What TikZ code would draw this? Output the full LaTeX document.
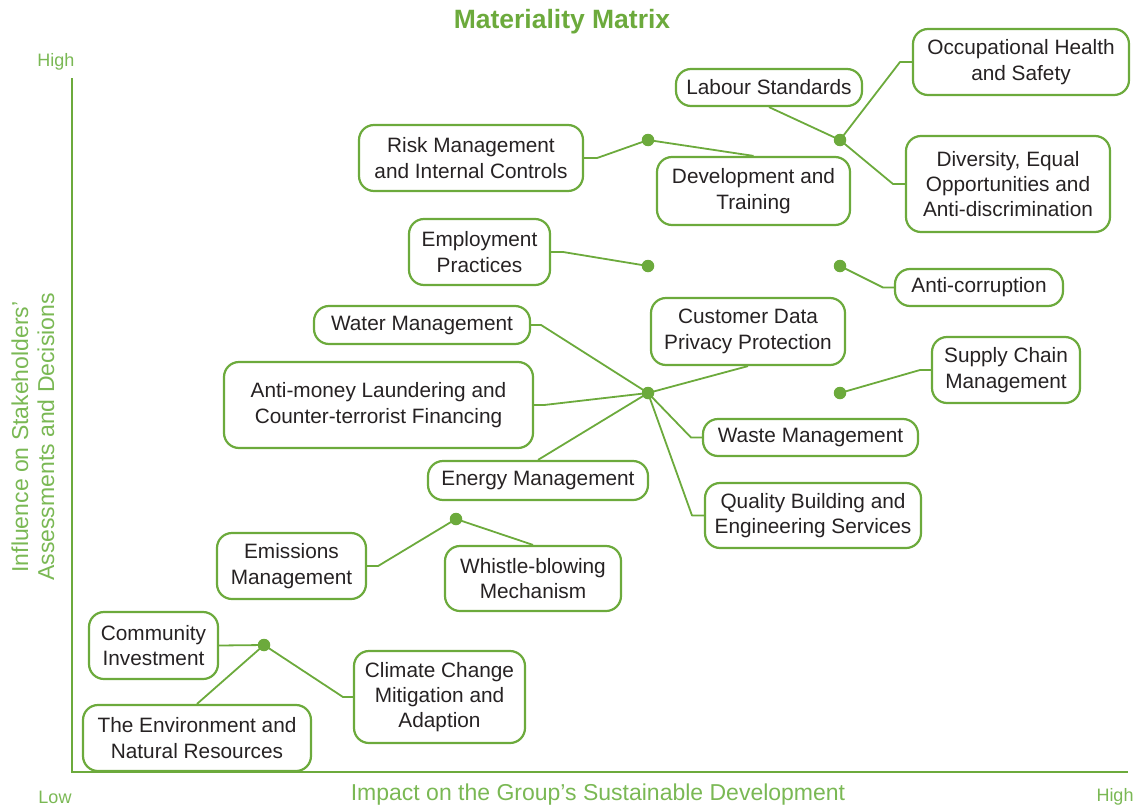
\documentclass[tikz,border=0pt]{standalone}
\usepackage{fontspec}
\setmainfont{Liberation Sans}
\definecolor{mgreen}{RGB}{108,170,60}
\definecolor{lgreen}{RGB}{122,184,84}
\definecolor{txt}{RGB}{38,34,35}
\tikzset{
  topic/.style={draw=mgreen, line width=2.2pt, rounded corners=15pt, align=center,
    inner sep=0pt, text=txt, font=\fontsize{20.8}{25.3}\selectfont},
  link/.style={draw=mgreen, line width=1.8pt, line join=round},
  hub/.style={circle, fill=mgreen, inner sep=0pt, minimum size=12.5pt},
  axislabel/.style={text=lgreen, font=\fontsize{23}{26}\selectfont, inner sep=0pt},
  endlabel/.style={text=lgreen, font=\fontsize{18}{20}\selectfont, inner sep=0pt},
}
\begin{document}
\begin{tikzpicture}[x=1pt,y=-1pt]
\useasboundingbox (0,0) rectangle (1134,808);

% title and axes
\node[text=mgreen, font=\bfseries\fontsize{26.5}{30}\selectfont, inner sep=0pt] (title) at (562,22) {Materiality Matrix};
\coordinate (ytop) at (72,78);
\coordinate (origin) at (72,772);
\coordinate (xend) at (1128,772);
\draw[draw=mgreen, line width=2.4pt] (ytop) -- (origin) -- (xend);
\node[endlabel] (yhigh) at (56,62) {High};
\node[endlabel] (xlow) at (55,797) {Low};
\node[endlabel] (xhigh) at (1115,797) {High};
\node[axislabel] (xtitle) at (598,795) {Impact on the Group’s Sustainable Development};
\node[axislabel, rotate=90, align=center] (ytitle) at (33,437) {Influence on Stakeholders’\\Assessments and Decisions};

% topics
\node[topic, minimum width=216pt, minimum height=66pt] (occ) at (1021,62) {Occupational Health\\and Safety};
\node[topic, minimum width=186pt, minimum height=37pt] (lab) at (769,87.5) {Labour Standards};
\node[topic, minimum width=224pt, minimum height=66pt] (risk) at (471,158) {Risk Management\\and Internal Controls};
\node[topic, minimum width=193pt, minimum height=68pt] (dev) at (753.5,191) {Development and\\Training};
\node[topic, minimum width=204pt, minimum height=96pt] (div) at (1008,184) {Diversity, Equal\\Opportunities and\\Anti-discrimination};
\node[topic, minimum width=141pt, minimum height=66pt] (emp) at (479.5,252) {Employment\\Practices};
\node[topic, minimum width=168pt, minimum height=37pt] (anti) at (979,287.5) {Anti-corruption};
\node[topic, minimum width=216pt, minimum height=38pt] (water) at (422,325) {Water Management};
\node[topic, minimum width=194pt, minimum height=67pt] (cust) at (748,331.5) {Customer Data\\Privacy Protection};
\node[topic, minimum width=148pt, minimum height=66pt] (supply) at (1006,370) {Supply Chain\\Management};
\node[topic, minimum width=309pt, minimum height=86pt] (aml) at (378.5,405) {Anti-money Laundering and\\Counter-terrorist Financing};
\node[topic, minimum width=215pt, minimum height=37pt] (waste) at (810.5,437.5) {Waste Management};
\node[topic, minimum width=220pt, minimum height=39pt] (energy) at (538,480.5) {Energy Management};
\node[topic, minimum width=216pt, minimum height=65pt] (quality) at (813,515.5) {Quality Building and\\Engineering Services};
\node[topic, minimum width=149pt, minimum height=66pt] (emis) at (291.5,566) {Emissions\\Management};
\node[topic, minimum width=176pt, minimum height=65pt] (whistle) at (533,578.5) {Whistle-blowing\\Mechanism};
\node[topic, minimum width=129pt, minimum height=67pt] (comm) at (153.5,645.5) {Community\\Investment};
\node[topic, minimum width=171pt, minimum height=92pt] (climate) at (439.5,697) {Climate Change\\Mitigation and\\Adaption};
\node[topic, minimum width=228pt, minimum height=66pt] (env) at (197,738) {The Environment and\\Natural Resources};

% connectors
\draw[link] (risk.east) -- ++(13,0) -- (648,140) -- (dev.north);
\draw[link] (lab.south) -- (840,140);
\draw[link] (840,140) -- (900,62) -- (occ.west);
\draw[link] (840,140) -- (893,184) -- (div.west);
\draw[link] (emp.east) -- ++(12,0) -- (648,266);
\draw[link] (840,266) -- (883,287.5) -- (anti.west);
\draw[link] (water.east) -- ++(10,0) -- (648,393);
\draw[link] (aml.east) -- ++(10,0) -- (648,393);
\draw[link] (energy.north) -- (648,393);
\draw[link] (648,393) -- (cust.south);
\draw[link] (648,393) -- (691,437.5) -- (waste.west);
\draw[link] (648,393) -- (692,515.5) -- (quality.west);
\draw[link] (840,393) -- (920,370) -- (supply.west);
\draw[link] (emis.east) -- ++(11,0) -- (456,519) -- (whistle.north);
\draw[link] (comm.east) -- (264,645);
\draw[link] (env.north) -- (264,645);
\draw[link] (264,645) -- (343,697) -- (climate.west);

% hubs
\node[hub] (h1) at (648,140) {};
\node[hub] (h2) at (840,140) {};
\node[hub] (h3) at (648,266) {};
\node[hub] (h4) at (840,266) {};
\node[hub] (h5) at (648,393) {};
\node[hub] (h6) at (840,393) {};
\node[hub] (h7) at (456,519) {};
\node[hub] (h8) at (264,645) {};
\end{tikzpicture}
\end{document}
